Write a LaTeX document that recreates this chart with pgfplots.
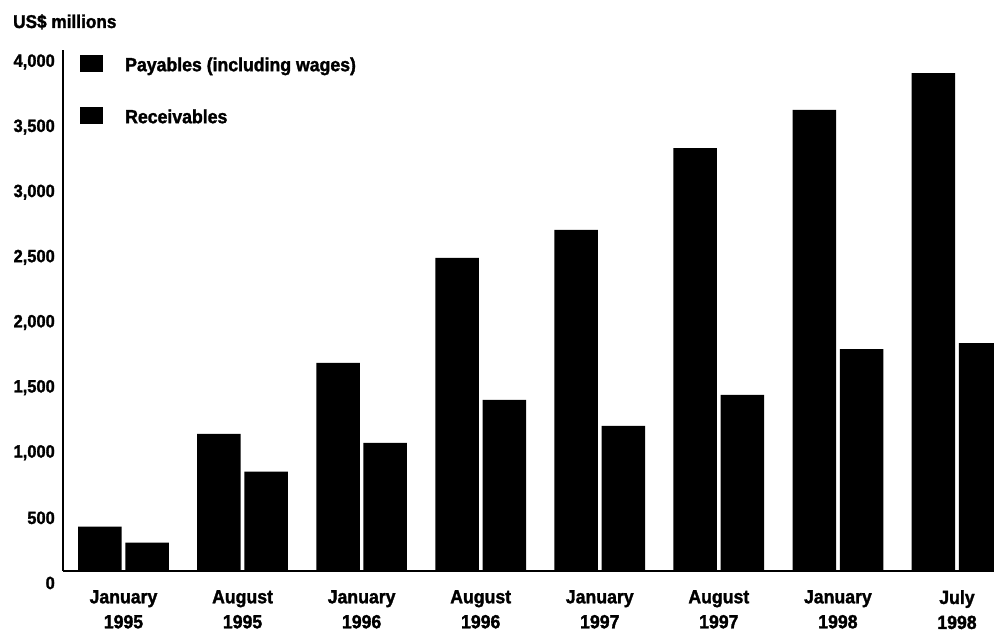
\documentclass[border=0pt]{standalone}
\usepackage{pgfplots}
\pgfplotsset{compat=1.18}
\usepackage{fontspec}
\setmainfont{Liberation Sans}[FakeStretch=0.93, BoldFeatures={FakeBold=1.6}]

\begin{document}
\begin{tikzpicture}
  \useasboundingbox (0bp,0bp) rectangle (994bp,632bp);
  \node[anchor=base west, inner sep=0pt, font=\fontsize{18.5bp}{20bp}\selectfont\bfseries]
    at (13bp,604bp) {US\$ millions};
  \begin{axis}[
    at={(63bp,61bp)}, anchor=south west,
    scale only axis, width=931bp, height=521bp,
    xmin=-0.508, xmax=7.311, ymin=0, ymax=4000,
    axis x line=bottom, axis y line=left,
    axis line style={-, line width=1.3bp},
    ybar=3.7bp, bar width=43.5bp,
    xtick={0,...,7},
    xticklabels={{January\\1995},{August\\1995},{January\\1996},{August\\1996},
                 {January\\1997},{August\\1997},{January\\1998},{July\\1998}},
    ytick={0,500,...,4000},
    major tick length=0pt,
    scaled y ticks=false,
    /pgf/number format/assume math mode=true,
    /pgf/number format/1000 sep={,},
    xticklabel style={anchor=north, inner sep=0pt, yshift=-19bp, align=center,
      font=\fontsize{19bp}{25bp}\selectfont\bfseries},
    yticklabel style={anchor=east, inner sep=0pt, xshift=-8bp, yshift=-12bp,
      font=\fontsize{17.7bp}{20bp}\selectfont\bfseries},
    legend style={at={(0.01826,0.9904)}, anchor=north west, draw=none, fill=none,
      inner sep=0pt, row sep=32bp,
      font=\fontsize{19bp}{20bp}\selectfont\bfseries,
      nodes={inner sep=0pt, text height=16bp, text depth=4bp, anchor=base west},
      /tikz/every odd column/.append style={column sep=22bp}},
    legend image code/.code={\fill[black] (0bp,-1bp) rectangle (23bp,16bp);},
  ]
    \addplot[fill=black, draw=none] coordinates {
      (0, 340) (1, 1052) (2, 1598) (3, 2404)
      (4, 2619) (5, 3246) (6, 3541) (7, 3822)
    }; % payables
    \addplot[fill=black, draw=none] coordinates {
      (0, 217) (1, 763) (2, 983) (3, 1313)
      (4, 1114) (5, 1352) (6, 1703) (7, 1749)
    }; % receivables
    \legend{Payables (including wages), Receivables}
  \end{axis}
\end{tikzpicture}
\end{document}
